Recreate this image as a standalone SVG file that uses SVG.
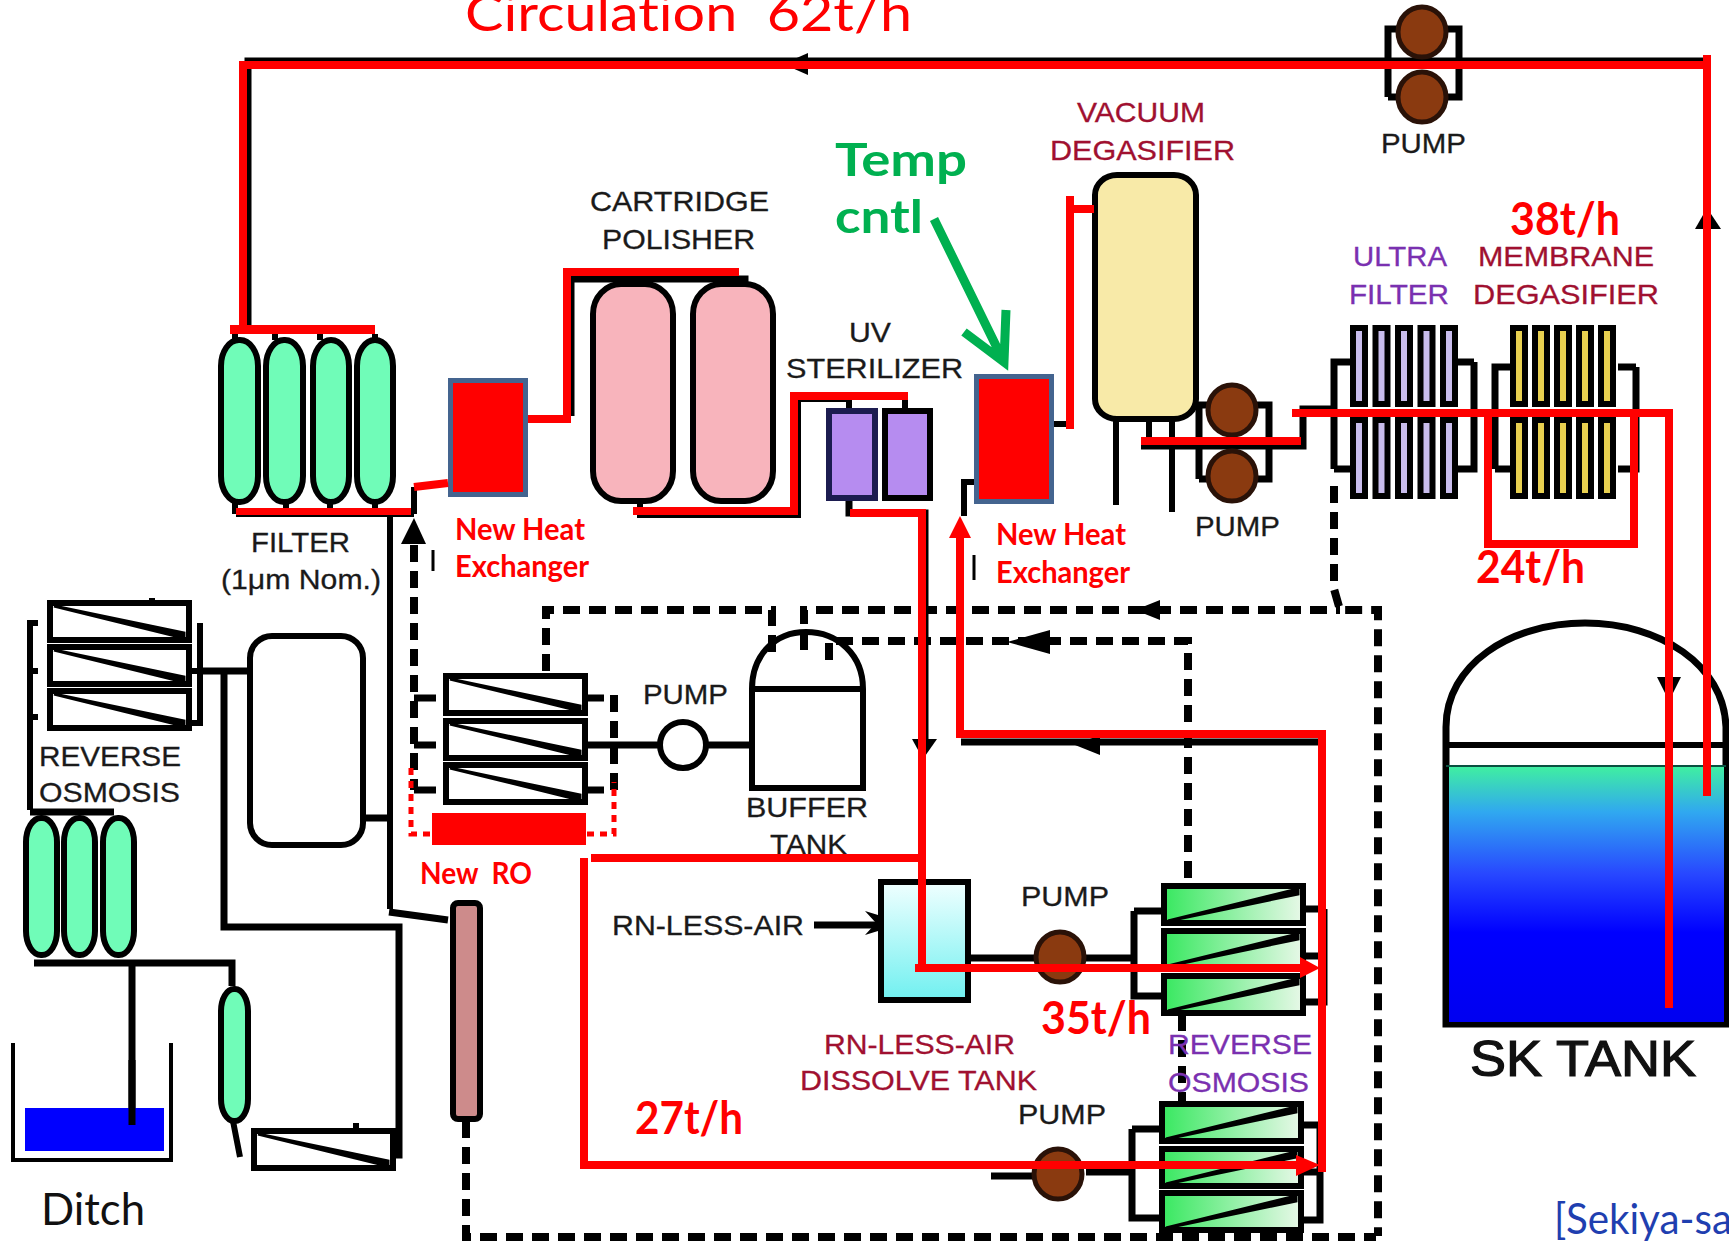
<svg xmlns="http://www.w3.org/2000/svg" width="1729" height="1241" viewBox="0 0 1729 1241">
<style>
text{white-space:pre;font-variant-ligatures:none}
.l{font-family:"Liberation Sans",Arial,sans-serif;font-size:28px;fill:#1a1a1a;stroke:#1a1a1a;stroke-width:.3}
.dr{fill:#a01030;stroke:#a01030}.pu{fill:#7a30b0;stroke:#7a30b0}
.r{font-family:Lato,"Open Sans",sans-serif;font-weight:700;fill:#f00}
.s{font-size:30px}.f{font-size:45px}
.k{fill:none;stroke:#000;stroke-width:7}
.t{fill:none;stroke:#000;stroke-width:6}
.d{fill:none;stroke:#000;stroke-width:8;stroke-dasharray:17 9}
.rd{fill:none;stroke:#f00;stroke-width:8}
.v{fill:#70fcb8;stroke:#000;stroke-width:6}
.pk{fill:#f8b4bc;stroke:#000;stroke-width:6}
.p{fill:#8a3a10;stroke:#2a1208;stroke-width:5}
.hx{fill:#f00;stroke:#44648f;stroke-width:5}
.ah{fill:#000}.ar{fill:#f00}
</style>
<defs>
<linearGradient id="gro" x1="0" y1="0" x2="1" y2="0"><stop offset="0" stop-color="#38e860"/><stop offset="1" stop-color="#e8f8e8"/></linearGradient>
<linearGradient id="gdis" x1="0" y1="0" x2="0" y2="1"><stop offset="0" stop-color="#f0ffff"/><stop offset="1" stop-color="#70f0f0"/></linearGradient>
<linearGradient id="gsk" x1="0" y1="0" x2="0" y2="1"><stop offset="0" stop-color="#40f0a0"/><stop offset=".18" stop-color="#30a8f0"/><stop offset=".42" stop-color="#2848ff"/><stop offset=".65" stop-color="#0000ff"/><stop offset="1" stop-color="#0000f0"/></linearGradient>
<g id="ro-w"><rect x="0" y="0" width="139" height="37" fill="#fff" stroke="#000" stroke-width="6"/><polygon points="4,3 134,30 134,35" fill="#000" stroke="#000" stroke-width="3"/></g>
<g id="ro-g"><rect x="0" y="0" width="139" height="37" fill="url(#gro)" stroke="#000" stroke-width="6"/><polygon points="4,35 134,3 134,8" fill="#000" stroke="#000" stroke-width="3"/></g>
<g id="tube-u"><rect x="0" y="0" width="12" height="76" fill="#c8bcec" stroke="#000" stroke-width="6"/></g>
<g id="tube-m"><rect x="0" y="0" width="12" height="76" fill="#e8d050" stroke="#000" stroke-width="6"/></g>
</defs>
<rect width="1729" height="1241" fill="#fff"/>

<g id="connectors-black">
<path class="k" d="M248 330V61H1706"/>
<path class="k" d="M571 416V279H745V284"/>
<path class="t" d="M640 284V279"/>
<path class="t" d="M414 514H236M390 514V909M414 487V514"/>
<path class="t" d="M640 502V515H798V399H849V408M905 399V408"/>
<path class="k" d="M849 500V513H925V742"/>
<path class="t" d="M1054 424H1070V209H1094"/>
<path class="t" d="M974 482H964V516"/>
<path class="t" d="M1116 419V505M1149 419V443M1172 419V512"/>
<path class="k" d="M1141 446H1303V409H1334"/>
<path class="k" d="M1388 97V29H1459V97H1388"/>
<path class="k" d="M1199 479V405H1269V479H1199"/>
<path fill="none" stroke="#000" stroke-width="3" d="M433 550V571M974 555V580"/>
<path class="d" d="M414 545V790"/>
<path class="d" d="M1334 486V589L1340 610H1378V1236"/>
<path class="d" d="M546 671V610H772V660"/>
<path class="d" d="M804 650V610H1340"/>
<path class="d" d="M829 660V641H1188V885"/>
<path class="d" d="M466 1121V1237H1376"/>
<path class="d" d="M1182 1014V1103"/>
<path class="k" d="M414 698H436M414 745H436M414 790H436M585 698H604M585 745H604M585 790H604"/>
<path class="d" d="M614 695V790"/>
<path class="k" d="M604 745H660M708 745H749"/>
<path class="k" d="M199 671H249M224 671V927H399V1155H393M364 818H390"/>
<path class="t" d="M30 810V623H38M30 671H38M30 717H38M200 623V723H190M190 671H200M152 598V603"/>
<path class="k" d="M30 812H114M34 963H232V986M132 963V1125"/>
<path class="t" d="M233 1121L240 1157M356 1123V1131"/>
<path class="k" d="M389 912L448 920"/>
<path class="k" d="M961 742H1320"/>
<path class="k" d="M814 925H880"/>
<path class="k" d="M970 958H1134M1134 911V996H1164M1134 911H1164M1324 909V1002H1303M1303 909H1324M1303 956H1324"/>
<path class="k" d="M991 1176H1036M1086 1172H1132M1132 1129V1218H1162M1132 1129H1162M1320 1125V1220H1302M1302 1125H1320M1302 1172H1320"/>
<path class="k" d="M1334 469V362H1350M1334 469H1350M1474 362V469H1456M1456 362H1474"/>
<path class="k" d="M1495 469V367H1510M1495 469H1510M1636 367V469H1618M1618 367H1636"/>
<path class="t" d="M235 340V334M275 340V334M320 340V334M375 340V334M235 502V514M286 502V514M330 502V514M375 502V514"/>
<polygon class="ah" points="783,64 808,53 808,75"/>
<polygon class="ah" points="414,518 401,544 426,544"/>
<polygon class="ah" points="1707,208 1695,229 1721,229"/>
<polygon class="ah" points="1135,610 1160,600 1160,620"/>
<polygon class="ah" points="1007,642 1050,630 1050,654"/>
<polygon class="ah" points="923,759 912,739 937,739"/>
<polygon class="ah" points="1075,745 1100,735 1100,755"/>
<polygon class="ah" points="904,923 865,911 876,923 865,935"/>
</g>

<g id="node-filter"><rect class="v" x="221" y="340" width="37" height="162" rx="18" ry="26"/><rect class="v" x="266" y="340" width="37" height="162" rx="18" ry="26"/><rect class="v" x="313" y="340" width="36" height="162" rx="18" ry="26"/><rect class="v" x="357" y="340" width="36" height="162" rx="18" ry="26"/>
<text class="l" x="251" y="552" textLength="99" lengthAdjust="spacingAndGlyphs">FILTER</text><text class="l" x="221" y="589" textLength="160" lengthAdjust="spacingAndGlyphs">(1μm Nom.)</text></g>
<g id="node-hx1"><rect class="hx" x="450.500" y="380.500" width="75" height="114"/>
<text class="r s" x="455" y="540" textLength="130" lengthAdjust="spacingAndGlyphs">New Heat</text><text class="r s" x="455" y="577" textLength="134" lengthAdjust="spacingAndGlyphs">Exchanger</text></g>
<g id="node-polisher"><rect class="pk" x="593" y="284" width="80" height="217" rx="28" ry="30"/><rect class="pk" x="693" y="284" width="80" height="217" rx="28" ry="30"/>
<text class="l" x="590" y="211" textLength="179" lengthAdjust="spacingAndGlyphs">CARTRIDGE</text><text class="l" x="602" y="249" textLength="153" lengthAdjust="spacingAndGlyphs">POLISHER</text></g>
<g id="node-uv"><rect x="829" y="411" width="46" height="87" fill="#b68cf0" stroke="#1c1c50" stroke-width="6"/><rect x="885" y="411" width="45" height="87" fill="#b68cf0" stroke="#000" stroke-width="6"/>
<text class="l" x="849" y="342" textLength="42" lengthAdjust="spacingAndGlyphs">UV</text><text class="l" x="786" y="378" textLength="177" lengthAdjust="spacingAndGlyphs">STERILIZER</text></g>
<g id="node-hx2"><rect class="hx" x="976.500" y="376.500" width="75" height="125"/>
<text class="r s" x="996" y="545" textLength="130" lengthAdjust="spacingAndGlyphs">New Heat</text><text class="r s" x="996" y="583" textLength="134" lengthAdjust="spacingAndGlyphs">Exchanger</text></g>
<g id="node-vacuum"><rect x="1095" y="175" width="101" height="244" rx="22" ry="20" fill="#f8eaa8" stroke="#000" stroke-width="6"/>
<text class="l dr" x="1077" y="122" textLength="128" lengthAdjust="spacingAndGlyphs">VACUUM</text><text class="l dr" x="1050" y="160" textLength="185" lengthAdjust="spacingAndGlyphs">DEGASIFIER</text></g>
<g id="node-pump-top"><ellipse class="p" cx="1422" cy="32" rx="24" ry="25"/><ellipse class="p" cx="1422" cy="97" rx="24" ry="25"/><text class="l" x="1381" y="153" textLength="85" lengthAdjust="spacingAndGlyphs">PUMP</text></g>
<g id="node-pump-mid"><ellipse class="p" cx="1232" cy="410" rx="24" ry="25"/><ellipse class="p" cx="1232" cy="476" rx="24" ry="25"/><text class="l" x="1195" y="536" textLength="85" lengthAdjust="spacingAndGlyphs">PUMP</text></g>
<g id="node-ultra">
<use href="#tube-u" x="1353" y="328"/><use href="#tube-u" x="1375.500" y="328"/><use href="#tube-u" x="1398" y="328"/><use href="#tube-u" x="1420.500" y="328"/><use href="#tube-u" x="1443" y="328"/>
<use href="#tube-u" x="1353" y="420"/><use href="#tube-u" x="1375.500" y="420"/><use href="#tube-u" x="1398" y="420"/><use href="#tube-u" x="1420.500" y="420"/><use href="#tube-u" x="1443" y="420"/>
<text class="l pu" x="1353" y="266" textLength="94" lengthAdjust="spacingAndGlyphs">ULTRA</text><text class="l pu" x="1349" y="304" textLength="100" lengthAdjust="spacingAndGlyphs">FILTER</text></g>
<g id="node-membrane">
<use href="#tube-m" x="1513" y="328"/><use href="#tube-m" x="1535" y="328"/><use href="#tube-m" x="1557" y="328"/><use href="#tube-m" x="1579" y="328"/><use href="#tube-m" x="1601" y="328"/>
<use href="#tube-m" x="1513" y="420"/><use href="#tube-m" x="1535" y="420"/><use href="#tube-m" x="1557" y="420"/><use href="#tube-m" x="1579" y="420"/><use href="#tube-m" x="1601" y="420"/>
<text class="l dr" x="1478" y="266" textLength="176" lengthAdjust="spacingAndGlyphs">MEMBRANE</text><text class="l dr" x="1473" y="304" textLength="186" lengthAdjust="spacingAndGlyphs">DEGASIFIER</text></g>
<g id="node-ro-upper"><use href="#ro-w" x="50" y="603"/><use href="#ro-w" x="50" y="647"/><use href="#ro-w" x="50" y="691"/>
<text class="l" x="39" y="766" textLength="142" lengthAdjust="spacingAndGlyphs">REVERSE</text><text class="l" x="39" y="802" textLength="141" lengthAdjust="spacingAndGlyphs">OSMOSIS</text></g>
<g id="node-vessels-left"><rect class="v" x="26" y="818" width="31" height="137" rx="15" ry="24"/><rect class="v" x="64" y="818" width="31" height="137" rx="15" ry="24"/><rect class="v" x="103" y="818" width="31" height="137" rx="15" ry="24"/></g>
<g id="node-buffer-white"><rect x="250" y="636" width="113" height="209" rx="22" fill="#fff" stroke="#000" stroke-width="6"/></g>
<g id="node-small-vessel"><rect class="v" x="221" y="989" width="27" height="132" rx="13" ry="22"/></g>
<g id="node-small-ro"><use href="#ro-w" x="254" y="1131"/></g>
<g id="node-ditch"><path d="M13 1043V1160H171V1043" fill="none" stroke="#000" stroke-width="4"/><rect x="25" y="1108" width="139" height="43" fill="#00f"/>
<text x="41" y="1225" font-family="Lato,sans-serif" font-size="44" fill="#111" textLength="104" lengthAdjust="spacingAndGlyphs">Ditch</text></g>
<line x1="132" y1="1060" x2="132" y2="1125" stroke="#000" stroke-width="7"/>
<g id="node-new-ro-column"><rect x="453" y="903" width="27" height="216" rx="5" fill="#cd8b8b" stroke="#000" stroke-width="6"/></g>
<g id="node-ro-mid"><use href="#ro-w" x="446" y="676"/><use href="#ro-w" x="446" y="721"/><use href="#ro-w" x="446" y="765"/>
<rect x="432" y="813" width="154" height="32" fill="#f00"/>
<path d="M411 768V834H432M587 834H614V782" fill="none" stroke="#f00" stroke-width="5" stroke-dasharray="7 6"/>
<text class="r s" x="420" y="884" textLength="112" lengthAdjust="spacingAndGlyphs">New  RO</text></g>
<g id="node-pump-white"><circle cx="683" cy="745" r="23" fill="#fff" stroke="#000" stroke-width="6"/><text class="l" x="643" y="704" textLength="85" lengthAdjust="spacingAndGlyphs">PUMP</text></g>
<g id="node-buffer"><path d="M752 689C752 655 775 632 806 632C838 632 863 655 863 689V788H752Z" fill="none" stroke="#000" stroke-width="6"/><line x1="752" y1="689" x2="863" y2="689" stroke="#000" stroke-width="6"/>
<text class="l" x="746" y="817" textLength="122" lengthAdjust="spacingAndGlyphs">BUFFER</text><text class="l" x="770" y="854" textLength="77" lengthAdjust="spacingAndGlyphs">TANK</text></g>
<g id="node-dissolve"><rect x="881" y="882" width="87" height="118" fill="url(#gdis)" stroke="#000" stroke-width="6"/>
<text class="l" x="612" y="935" textLength="192" lengthAdjust="spacingAndGlyphs">RN-LESS-AIR</text>
<text class="l dr" x="824" y="1054" textLength="191" lengthAdjust="spacingAndGlyphs">RN-LESS-AIR</text><text class="l dr" x="800" y="1090" textLength="237" lengthAdjust="spacingAndGlyphs">DISSOLVE TANK</text></g>
<g id="node-pump-ro1"><ellipse class="p" cx="1060" cy="957" rx="24" ry="25"/><text class="l" x="1021" y="906" textLength="88" lengthAdjust="spacingAndGlyphs">PUMP</text></g>
<g id="node-pump-ro2"><ellipse class="p" cx="1058" cy="1174" rx="24" ry="25"/><text class="l" x="1018" y="1124" textLength="88" lengthAdjust="spacingAndGlyphs">PUMP</text></g>
<g id="node-ro1"><use href="#ro-g" x="1164" y="886"/><use href="#ro-g" x="1164" y="931"/><use href="#ro-g" x="1164" y="976"/></g>
<g id="node-ro2"><use href="#ro-g" x="1162" y="1104"/><use href="#ro-g" x="1162" y="1149"/><use href="#ro-g" x="1162" y="1193"/>
<text class="l pu" x="1168" y="1054" textLength="144" lengthAdjust="spacingAndGlyphs">REVERSE</text><text class="l pu" x="1168" y="1092" textLength="141" lengthAdjust="spacingAndGlyphs">OSMOSIS</text></g>
<g id="node-sk-tank"><path d="M1446 745V727C1446 665 1510 623 1585 623C1660 623 1724 665 1726 727V1024H1446Z" fill="#fff" stroke="#000" stroke-width="7"/>
<rect x="1449" y="766" width="275" height="256" fill="url(#gsk)"/><line x1="1446" y1="745" x2="1726" y2="745" stroke="#000" stroke-width="6"/><line x1="1446" y1="766" x2="1726" y2="766" stroke="#0a5040" stroke-width="2"/>
<text x="1470" y="1076" font-family="Liberation Sans,sans-serif" font-size="50" fill="#111" stroke="#111" stroke-width="1.2" textLength="226" lengthAdjust="spacingAndGlyphs">SK TANK</text></g>

<g id="connectors-red">
<polygon class="ah" points="1669,701 1657,677 1681,677"/>
<path class="rd" d="M243 330V65H1707"/>
<rect x="230" y="325" width="145" height="9" fill="#f00"/>
<rect x="236" y="508" width="175" height="7" fill="#f00"/>
<path class="rd" d="M414 487L448 483"/>
<path class="rd" d="M528 419H567V272H739"/>
<path class="rd" d="M633 511H794V396H908"/>
<path class="rd" stroke-width="9" d="M1707 55V796"/>
<path class="rd" d="M1070 196V429M1070 209H1094"/>
<path class="rd" d="M1141 441H1301"/>
<path class="rd" d="M1292 413H1669V1008"/>
<path class="rd" d="M1488 413V544H1634V413"/>
<path class="rd" d="M850 513H922V966"/>
<path class="rd" d="M915 968H1302"/>
<polygon class="ar" points="1320,968 1300,957 1300,978"/>
<path class="rd" d="M591 858H922"/>
<path class="rd" d="M584 858V1165H1300"/>
<polygon class="ar" points="1320,1165 1296,1155 1296,1176"/>
<path class="rd" d="M960 538V734H1322V1172"/>
<polygon class="ar" points="960,516 949,538 971,538"/>
</g>

<g id="annotations">
<text class="r" x="465" y="31" font-size="50" style="font-weight:400" textLength="447" lengthAdjust="spacingAndGlyphs">Circulation  62t/h</text>
<text class="r f" x="835" y="176" style="fill:#00b050" textLength="132" lengthAdjust="spacingAndGlyphs">Temp</text>
<text class="r f" x="835" y="233" style="fill:#00b050" textLength="88" lengthAdjust="spacingAndGlyphs">cntl</text>
<path d="M934 219L1003 360M964 332L1004 362L1006 310" fill="none" stroke="#00b050" stroke-width="9"/>
<text class="r f" x="1510" y="235" textLength="110" lengthAdjust="spacingAndGlyphs">38t/h</text>
<text class="r f" x="1476" y="583" textLength="109" lengthAdjust="spacingAndGlyphs">24t/h</text>
<text class="r f" x="1041" y="1034" textLength="110" lengthAdjust="spacingAndGlyphs">35t/h</text>
<text class="r f" x="635" y="1134" textLength="108" lengthAdjust="spacingAndGlyphs">27t/h</text>
<text x="1554" y="1234" font-family="Lato,sans-serif" font-size="42" fill="#1f3fb0" textLength="178" lengthAdjust="spacingAndGlyphs">[Sekiya-sa</text>
</g>
</svg>
